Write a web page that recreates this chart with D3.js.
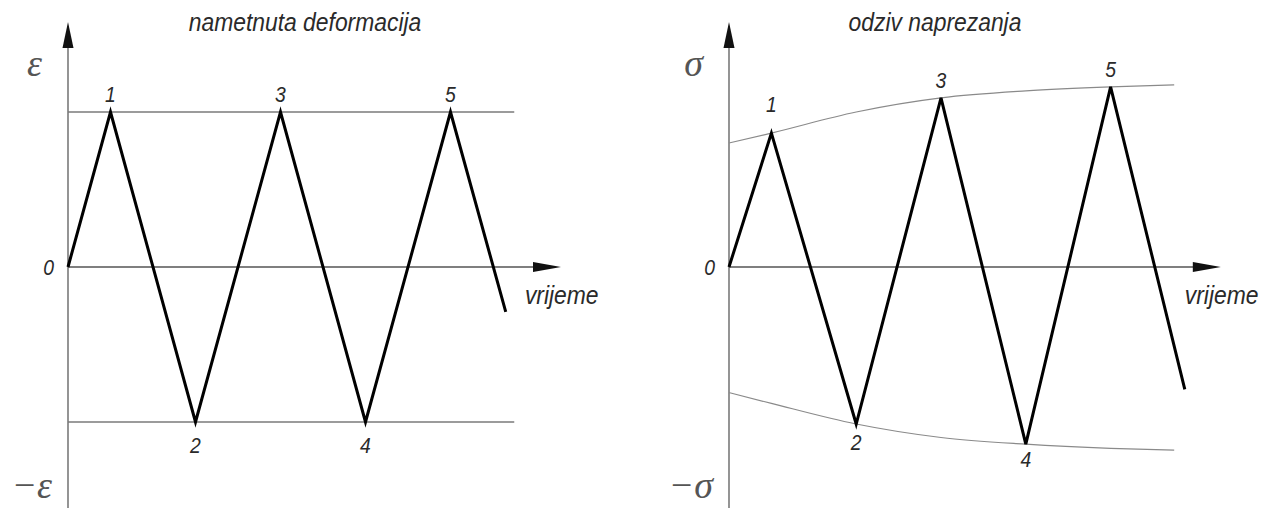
<!DOCTYPE html>
<html>
<head>
<meta charset="utf-8">
<script src="https://cdn.jsdelivr.net/npm/d3@7/dist/d3.min.js"></script>
<style>
  html, body { margin: 0; padding: 0; background: #fff; }
  text { font-family: "Liberation Sans", Arial, sans-serif; font-style: italic; fill: #2a2a2a; }
</style>
</head>
<body>
<svg id="chart" width="1274" height="508"></svg>
<script>
// strain input (left) - time in half-ramp units, value in amplitude units
const strainT = [0, 1, 3, 5, 7, 9, 10.3]
const strainV = [0, 1, -1, 1, -1, 1, -0.29]

// stress response (right)
const stressT = [0, 1, 3, 5, 7, 9, 10.75]
const stressV = [0, 0.864, -1.013, 1.091, -1.143, 1.162, -0.79]

// envelope curves of the stress response
const envT = [0, 1, 3, 5, 7, 9, 10.5]
const envUpper = [0.8, 0.864, 1.0, 1.091, 1.136, 1.162, 1.175]
const envLower = [-0.81, -0.88, -1.013, -1.1, -1.143, -1.17, -1.182]

const pointLabels = ['1', '2', '3', '4', '5']
const titles = ['nametnuta deformacija', 'odziv naprezanja']
const axisLabels = [['\u03b5', '\u2212\u03b5'], ['\u03c3', '\u2212\u03c3']]
const timeLabel = 'vrijeme'

const svg = d3.select('#chart')
const y = d3.scaleLinear().domain([-1, 1]).range([422, 112])
const grey = '#7a7a7a'

// narrow italic text (squeezed horizontally like the drawing font)
function narrowText(g, x, yy, str, size, anchor) {
  return g.append('text')
    .attr('transform', `translate(${x},${yy}) scale(0.88,1)`)
    .attr('text-anchor', anchor || 'start')
    .attr('font-size', size)
    .text(str)
}

function drawPanel(opts) {
  const {x, t, v, title, titleX, syms, env} = opts
  const g = svg.append('g')
  const x0 = x(0)

  // vertical axis with arrow
  g.append('line')
    .attr('x1', x0).attr('x2', x0)
    .attr('y1', 46).attr('y2', 508)
    .attr('stroke', grey).attr('stroke-width', 1.6)
  g.append('path')
    .attr('d', `M${x0},22L${x0 - 5.5},48L${x0 + 5.5},48Z`)
    .attr('fill', '#111')

  // time axis with arrow
  const tip = x(11.6)
  g.append('line')
    .attr('x1', x0).attr('x2', tip - 26)
    .attr('y1', y(0)).attr('y2', y(0))
    .attr('stroke', '#555').attr('stroke-width', 1.3)
  g.append('path')
    .attr('d', `M${tip},${y(0)}L${tip - 28},${y(0) - 5}L${tip - 28},${y(0) + 5}Z`)
    .attr('fill', '#111')

  if (env) {
    const curve = d3.line()
      .x((d, i) => x(envT[i]))
      .y(d => y(d))
      .curve(d3.curveMonotoneX)
    g.append('path').attr('d', curve(envUpper))
      .attr('fill', 'none').attr('stroke', '#8a8a8a').attr('stroke-width', 1.2)
    g.append('path').attr('d', curve(envLower))
      .attr('fill', 'none').attr('stroke', '#8a8a8a').attr('stroke-width', 1.2)
  } else {
    [1, -1].forEach(lv => {
      g.append('line')
        .attr('x1', x0).attr('x2', x(10.5))
        .attr('y1', y(lv)).attr('y2', y(lv))
        .attr('stroke', grey).attr('stroke-width', 1.6)
    })
  }

  // triangular history
  const line = d3.line()
    .x((d, i) => x(t[i]))
    .y(d => y(d))
  g.append('path')
    .attr('d', line(v))
    .attr('fill', 'none')
    .attr('stroke', '#000')
    .attr('stroke-width', 3)
    .attr('stroke-linejoin', 'miter')

  // point numbers
  pointLabels.forEach((lab, i) => {
    const k = i + 1
    const peak = v[k] > 0
    let dy = peak ? -10 : 31
    if (env && k === 1) dy = -21
    if (env && k === 4) dy = 23
    if (env && k === 2) dy = 26
    narrowText(g, x(t[k]), y(v[k]) + dy, lab, 22, 'middle')
  })

  narrowText(g, x0 - 14, y(0) + 8, '0', 22, 'end')
  narrowText(g, x(10.75), y(0) + 37, timeLabel, 26)
  narrowText(g, titleX, 31, title, 26, 'middle')

  g.append('text')
    .attr('x', x0 - 26).attr('y', 76)
    .attr('text-anchor', 'end').attr('font-size', 38)
    .style('font-family', '"Liberation Serif", serif')
    .style('fill', '#555')
    .text(syms[0])
  g.append('text')
    .attr('x', x0 - 16).attr('y', 498)
    .attr('text-anchor', 'end').attr('font-size', 38)
    .style('font-family', '"Liberation Serif", serif')
    .style('fill', '#555')
    .text(syms[1])
}

drawPanel({
  x: d3.scaleLinear().domain([0, 10]).range([68, 493]),
  t: strainT, v: strainV,
  title: titles[0], titleX: 305,
  syms: axisLabels[0], env: false
})

drawPanel({
  x: d3.scaleLinear().domain([0, 10]).range([729, 1153]),
  t: stressT, v: stressV,
  title: titles[1], titleX: 935,
  syms: axisLabels[1], env: true
})
</script>
</body>
</html>
